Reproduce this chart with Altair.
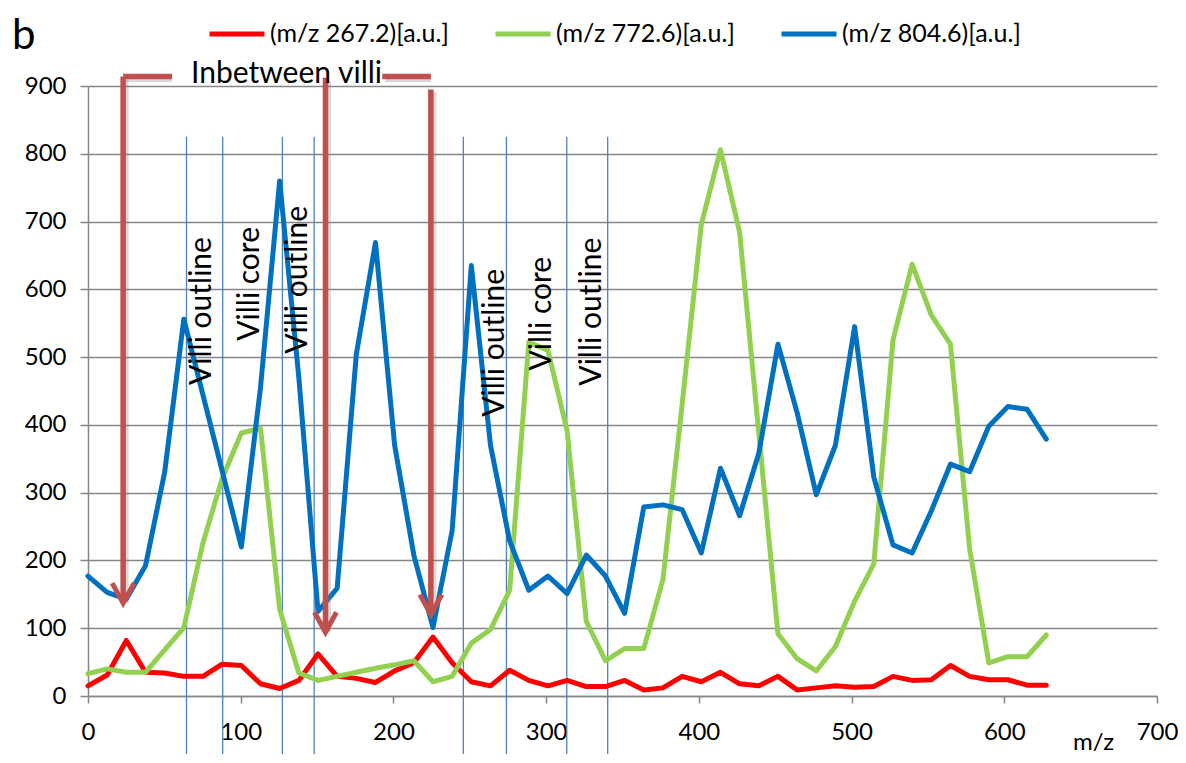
import altair as alt
import pandas as pd

# ---------------- data ----------------
mz = [0, 12.55, 25.1, 37.65, 50.2, 62.75, 75.3, 87.85, 100.4, 112.95,
      125.5, 138.05, 150.6, 163.15, 175.7, 188.25, 200.8, 213.35, 225.9, 238.45,
      251.0, 263.55, 276.1, 288.65, 301.2, 313.75, 326.3, 338.85, 351.4, 363.95,
      376.5, 389.05, 401.6, 414.15, 426.7, 439.25, 451.8, 464.35, 476.9, 489.45,
      502.0, 514.55, 527.1, 539.65, 552.2, 564.75, 577.3, 589.85, 602.4, 614.95,
      627.5]

s267 = [15, 31, 82, 35, 34, 29, 29, 47, 45, 18,
        11, 23, 62, 29, 26, 20, 37, 49, 87, 49,
        21, 15, 38, 23, 15, 23, 14, 14, 23, 9,
        12, 29, 21, 35, 18, 15, 29, 9, 12, 15,
        13, 14, 29, 23, 24, 45, 29, 24, 24, 16,
        16]

s772 = [33, 40, 35, 35, 68, 101, 226, 321, 388, 395,
        128, 34, 23, 29, 35, 41, 46, 52, 21, 29,
        78, 98, 156, 522, 510, 391, 110, 52, 70, 70,
        172, 430, 696, 806, 684, 388, 92, 55, 37, 73,
        140, 195, 525, 637, 562, 519, 217, 49, 58, 58,
        90]

s804 = [177, 153, 143, 192, 330, 556, 444, 332, 220, 455,
        760, 470, 125, 159, 504, 669, 370, 208, 101, 244,
        635, 370, 229, 156, 177, 151, 208, 177, 122, 279,
        282, 275, 211, 336, 266, 358, 519, 418, 297, 370,
        545, 323, 223, 211, 273, 342, 331, 398, 427, 423,
        379]

series_names = ["(m/z 267.2)[a.u.]", "(m/z 772.6)[a.u.]", "(m/z 804.6)[a.u.]"]
series_colors = ["#FF0000", "#92D050", "#0070C0"]

# region boundary lines
region_x = [64.5, 88.2, 127.3, 148.1, 245.8, 274.0, 313.5, 340.3]
region_top = 825
region_bottom = -100

# rotated region labels
region_labels = ["Villi outline", "Villi core", "Villi outline",
                 "Villi outline", "Villi core", "Villi outline"]
label_x = [74.5, 105.8, 137.2, 266.5, 297.2, 329.8]
label_y = [568, 608, 614, 521, 564, 567]

# "Inbetween villi" arrows
arrow_x = [23, 155.5, 224.5]
arrow_top = [914, 912, 895]
arrow_tip = [137, 94, 120]
bracket_x = [23, 192.7]
bracket_x2 = [55, 224.5]
bracket_y = [914, 914]
bracket_text = ["Inbetween villi"]
bracket_text_x = [130]
bracket_text_y = [917]

# panel letter
panel_text = ["b"]
panel_x = [-42]
panel_y = [974]

FONT = "Lato"
GRID = "#868686"
ARROW = "#C0504D"

# ---------------- frames ----------------
rows = []
for name, vals in zip(series_names, [s267, s772, s804]):
    for x, v in zip(mz, vals):
        rows.append({"mz": x, "value": v, "series": name})
df = pd.DataFrame(rows)

df_regions = pd.DataFrame({"mz": region_x, "value": [region_top] * len(region_x),
                           "bottom": [region_bottom] * len(region_x)})
df_labels = pd.DataFrame({"mz": label_x, "value": label_y, "t": region_labels})
df_arrows = pd.DataFrame({"mz": arrow_x, "value": arrow_top, "tip": arrow_tip})
df_heads = pd.DataFrame({"mz": arrow_x, "value": arrow_tip})
df_bracket = pd.DataFrame({"mz": bracket_x, "x2": bracket_x2, "value": bracket_y})
df_btext = pd.DataFrame({"mz": bracket_text_x + panel_x, "value": bracket_text_y + panel_y,
                         "t": bracket_text + panel_text, "size": [30, 42]})

xscale = alt.Scale(domain=[0, 700], nice=False, zero=False)
yscale = alt.Scale(domain=[0, 900], nice=False, zero=False)
xaxis = alt.Axis(values=list(range(0, 701, 100)), title="m/z", grid=False,
                 labelFlush=False, tickSize=7, labelPadding=17,
                 titleX=1005, titleY=46, titleBaseline="middle", titleAlign="center")
yaxis = alt.Axis(values=list(range(0, 901, 100)), title=None, grid=True,
                 tickSize=8, labelPadding=14)

X = alt.X("mz:Q", scale=xscale, axis=xaxis, title="m/z")
Y = alt.Y("value:Q", scale=yscale, axis=yaxis, title=None)

lines = alt.Chart(df).mark_line(strokeWidth=5, strokeJoin="round", strokeCap="round").encode(
    x=X, y=Y,
    color=alt.Color("series:N", scale=alt.Scale(domain=series_names, range=series_colors),
                    legend=alt.Legend(orient="none", legendX=119, legendY=-82,
                                      direction="horizontal", title=None,
                                      symbolType="M-1,0L1,0", symbolSize=3025,
                                      symbolStrokeWidth=5, labelFont=FONT, labelFontSize=25,
                                      labelLimit=400, labelColor="black",
                                      columnPadding=36, labelOffset=3)),
)

regions = alt.Chart(df_regions).mark_rule(color="#4F81BD", strokeWidth=1.3).encode(
    x=X, y=Y, y2="bottom:Q")

labels = alt.Chart(df_labels).mark_text(angle=270, font=FONT, fontSize=30, color="black",
                                        align="center", baseline="middle").encode(
    x=X, y=Y, text="t:N")

shaft_shadow = alt.Chart(df_arrows).mark_rule(color="#7f7f7f", opacity=0.3, strokeWidth=5,
                                              xOffset=3, yOffset=3).encode(
    x=X, y=Y, y2="tip:Q")
shafts = alt.Chart(df_arrows).mark_rule(color=ARROW, strokeWidth=5.5).encode(
    x=X, y=Y, y2="tip:Q")
heads = alt.Chart(df_heads).mark_point(shape="M-0.55,-1L0,0L0.55,-1", size=1600, filled=False,
                                       strokeWidth=5, color=ARROW, opacity=1).encode(
    x=X, y=Y)
bracket_shadow = alt.Chart(df_bracket).mark_rule(color="#7f7f7f", opacity=0.3, strokeWidth=5,
                                                 xOffset=3, yOffset=3).encode(
    x=X, x2="x2:Q", y=Y)
bracket = alt.Chart(df_bracket).mark_rule(color=ARROW, strokeWidth=5.5).encode(
    x=X, x2="x2:Q", y=Y)
btext = alt.Chart(df_btext).mark_text(font=FONT, color="black",
                                      align="center", baseline="middle").encode(
    x=X, y=Y, text="t:N", size=alt.Size("size:Q", scale=None, legend=None))

chart = alt.layer(regions, lines, labels, shaft_shadow, bracket_shadow, shafts, bracket, heads, btext).properties(
    width=1069, height=610,
    autosize=alt.AutoSizeParams(type="none"),
    padding={"left": 80, "top": 78, "right": 21, "bottom": 58},
).configure_view(stroke=None).configure_axis(
    domainColor=GRID, domainWidth=1.5, tickColor=GRID, tickWidth=1.5,
    gridColor=GRID, gridWidth=1.5, labelFont=FONT, labelFontSize=24, labelColor="black",
    titleFont=FONT, titleFontSize=24, titleFontWeight="normal", titleColor="black",
)

chart.save("out.html", embed_options={"renderer": "svg", "actions": False})
